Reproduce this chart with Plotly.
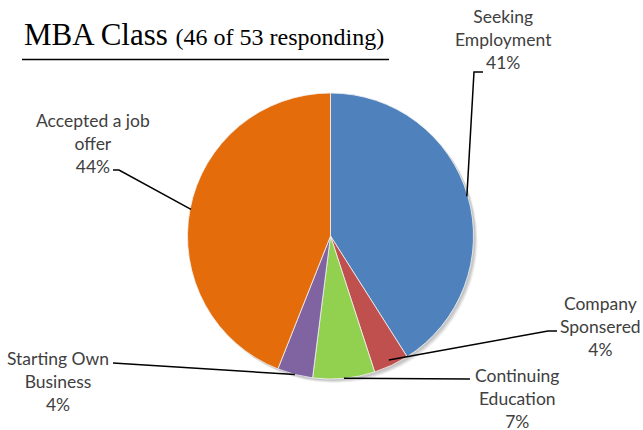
import math
import plotly.graph_objects as go

# Share of MBA graduates by outcome (46 of 53 responding), percent
categories = ["Seeking Employment", "Company Sponsered", "Continuing Education",
              "Starting Own Business", "Accepted a job offer"]
percents = [41, 4, 7, 4, 44]
label_text = ["Seeking<br>Employment", "Company<br>Sponsered", "Continuing<br>Education",
              "Starting Own<br>Business", "Accepted a job<br>offer"]
colors = ["#4F81BD", "#C0504D", "#92D050", "#8064A2", "#E46C0A"]

W, H = 643, 430
CX, CY, R = 330.5, 236.0, 143.0


def px(x):
    return x / W


def py(y):
    return 1 - y / H


fig = go.Figure()

# soft drop shadow behind the pie
for off, op in [(4, 0.06), (3, 0.08), (2, 0.10)]:
    fig.add_trace(go.Pie(
        values=[1], marker=dict(colors=["rgba(0,0,0,%s)" % op]),
        domain=dict(x=[px(CX - R + off), px(CX + R + off)],
                    y=[py(CY + R + off), py(CY - R + off)]),
        textinfo="none", hoverinfo="skip", showlegend=False, sort=False))

fig.add_trace(go.Pie(
    labels=categories, values=percents, sort=False, direction="clockwise",
    rotation=0, marker=dict(colors=colors, line=dict(color="#f2f2f2", width=0.8)),
    textinfo="none", showlegend=False,
    domain=dict(x=[px(CX - R), px(CX + R)], y=[py(CY + R), py(CY - R)])))

# label placement (centre of text block) and elbow of each leader line
label_pos = [(503, 40), (600, 326), (517, 398), (58, 381), (93, 143)]
elbows = [[(483, 72), (474, 72)],
          [(557, 331), (548, 331)],
          [(470, 379)],
          [(113, 363)],
          [(113, 170), (119, 170)]]
anchor_r = [R - 1, R - 6, R, R, R - 1]

total = sum(percents)
shapes = []
annotations = []
cum = 0
for i, v in enumerate(percents):
    mid = (cum + v / 2) / total * 2 * math.pi
    cum += v
    ex = CX + anchor_r[i] * math.sin(mid)
    ey = CY - anchor_r[i] * math.cos(mid)
    pts = elbows[i] + [(ex, ey)]
    path = "M %f %f" % (px(pts[0][0]), py(pts[0][1]))
    for (x, y) in pts[1:]:
        path += " L %f %f" % (px(x), py(y))
    shapes.append(dict(type="path", xref="paper", yref="paper", path=path,
                       line=dict(color="#000000", width=1.5)))
    lx, ly = label_pos[i]
    annotations.append(dict(
        x=px(lx), y=py(ly), xref="paper", yref="paper", showarrow=False,
        text="%s<br>%d%%" % (label_text[i], v), align="center",
        xanchor="center", yanchor="middle",
        font=dict(family="Lato", size=17.5, color="#404040")))

# title with underline
annotations.append(dict(
    x=px(22), y=py(54), xref="paper", yref="paper", showarrow=False,
    xanchor="left", yanchor="bottom",
    text="MBA Class <span style='font-size:24px'>(46 of 53 responding)</span>",
    font=dict(family="Liberation Serif", size=31, color="#000000")))
shapes.append(dict(type="line", xref="paper", yref="paper",
                   x0=px(22), x1=px(389), y0=py(59.5), y1=py(59.5),
                   line=dict(color="#000000", width=1.5)))

fig.update_layout(
    width=W, height=H, margin=dict(l=0, r=0, t=0, b=0),
    paper_bgcolor="white", plot_bgcolor="white",
    shapes=shapes, annotations=annotations)

fig.write_html("out.html")
